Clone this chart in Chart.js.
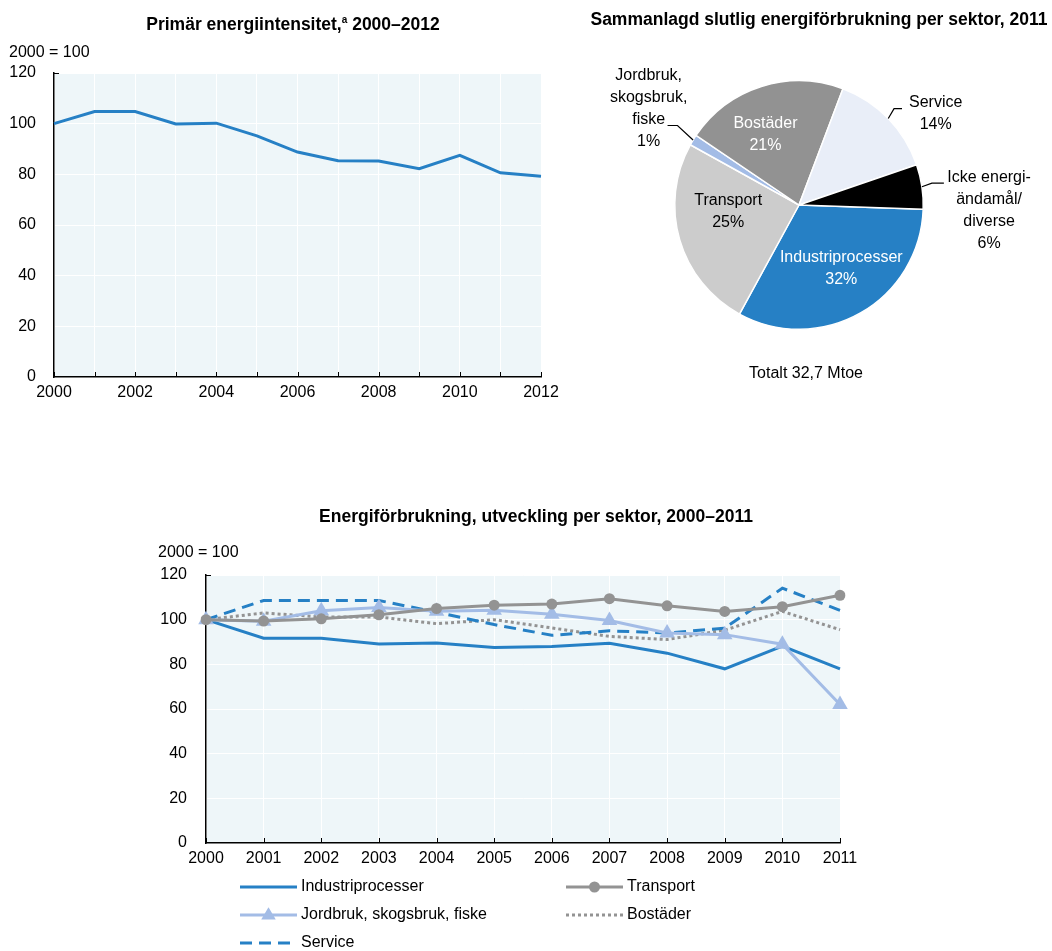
<!DOCTYPE html>
<html>
<head>
<meta charset="utf-8">
<script src="https://cdn.jsdelivr.net/npm/chart.js@4/dist/chart.umd.min.js"></script>
<style>
    html, body { margin: 0; padding: 0; background: #fff; }
    #wrap { position: relative; width: 1052px; height: 951px; overflow: hidden; }
    canvas { position: absolute; }
</style>
</head>
<body>
<div id="wrap">
    <canvas id="intensityChart" width="575" height="420" style="left:0;top:0"></canvas>
    <canvas id="sectorPie" width="472" height="400" style="left:580px;top:0"></canvas>
    <canvas id="sectorTrend" width="1052" height="451" style="left:0;top:500px"></canvas>
</div>
<script>
// Primary energy intensity, 2000 = 100
const intensityYears = ['2000', '2001', '2002', '2003', '2004', '2005', '2006',
    '2007', '2008', '2009', '2010', '2011', '2012'];
const intensityValues = [100, 104.8, 104.8, 99.9, 100.2, 95.2, 88.8, 85.4, 85.3, 82.2, 87.5, 80.6, 79.2];

// Final energy consumption by sector, 2011 (shares in %)
const pieSectors = ['Industriprocesser', 'Transport', 'Jordbruk, skogsbruk, fiske',
    'Bostäder', 'Service', 'Icke energiändamål/diverse'];
const pieShares = [32.4, 25.1, 1.4, 21.3, 14.0, 5.8];
const pieShareLabels = ['32%', '25%', '1%', '21%', '14%', '6%'];

// Energy consumption by sector, 2000 = 100
const trendYears = ['2000', '2001', '2002', '2003', '2004', '2005',
    '2006', '2007', '2008', '2009', '2010', '2011'];
const industriValues = [100, 91.7, 91.7, 89.1, 89.6, 87.5, 88.0, 89.4, 85.0, 78.0, 88.2, 78.0];
const transportValues = [100, 99.4, 100.4, 102.2, 105.0, 106.5, 107.0, 109.4, 106.2, 103.7, 105.8, 110.9];
const jordbrukValues = [100, 99.3, 104.0, 105.5, 103.8, 104.2, 102.4, 99.6, 94.0, 93.3, 89.0, 62.0];
const bostaderValues = [100, 103.0, 101.2, 101.2, 98.2, 100.0, 96.3, 92.5, 91.1, 95.3, 103.7, 95.5];
const serviceValues = [100, 108.6, 108.6, 108.6, 103.3, 97.8, 93.0, 95.0, 94.0, 96.2, 114.1, 104.2];

const yTicks = [0, 20, 40, 60, 80, 100, 120];

const FONT = "'Liberation Sans', Arial, sans-serif";
const FONT_SIZE = 16;
const TITLE_SIZE = 17.5;
const BLUE = '#2680C5';
const LIGHT_BLUE = '#A3BCE6';
const GRAY = '#939393';
const PLOT_BG = '#EEF6F9';

Chart.defaults.font.family = FONT;
Chart.defaults.font.size = FONT_SIZE;
Chart.defaults.color = '#000';

/**
 * Fills the plot area and draws the short inward tick marks on the axes.
 */
const plotFrame = {
    id: 'plotFrame',
    beforeDraw(chart) {
        const area = chart.chartArea;
        if (!chart.scales.x) return;
        chart.ctx.save();
        chart.ctx.fillStyle = PLOT_BG;
        chart.ctx.fillRect(area.left, area.top, area.right - area.left, area.bottom - area.top);
        chart.ctx.restore();
    },
    beforeDatasetsDraw(chart) {
        const xs = chart.scales.x;
        if (!xs) return;
        const ctx = chart.ctx;
        const area = chart.chartArea;
        ctx.save();
        ctx.strokeStyle = '#000';
        ctx.lineWidth = 1;
        ctx.beginPath();
        xs.ticks.forEach((t, i) => {
            const x = Math.round(xs.getPixelForTick(i)) + 0.5;
            ctx.moveTo(x, area.bottom);
            ctx.lineTo(x, area.bottom - 5);
        });
        ctx.moveTo(area.left, area.top + 0.5);
        ctx.lineTo(area.left + 5, area.top + 0.5);
        ctx.stroke();
        ctx.restore();
    }
};

/**
 * Draws the chart title (with optional superscript) and the unit label.
 */
const captions = {
    id: 'captions',
    afterDraw(chart, args, opts) {
        const ctx = chart.ctx;
        const area = chart.chartArea;
        ctx.save();
        ctx.fillStyle = '#000';
        ctx.textBaseline = 'middle';

        // title, built from parts so a superscript can be inserted
        if (opts.title) {
            const parts = opts.title;
            const fonts = parts.map(p => p.sup ? `bold 10px ${FONT}` : `bold ${TITLE_SIZE}px ${FONT}`);
            let total = 0;
            const widths = parts.map((p, i) => {
                ctx.font = fonts[i];
                const w = ctx.measureText(p.text).width;
                total += w;
                return w;
            });
            let x = opts.titleX - total / 2;
            ctx.textAlign = 'left';
            parts.forEach((p, i) => {
                ctx.font = fonts[i];
                ctx.fillText(p.text, x, opts.titleY - (p.sup ? 5 : 0));
                x += widths[i];
            });
        }

        if (opts.unit) {
            ctx.font = `${FONT_SIZE}px ${FONT}`;
            ctx.textAlign = 'left';
            ctx.fillText(opts.unit, area.left + opts.unitDx, area.top + opts.unitDy);
        }
        if (opts.note) {
            ctx.font = `${FONT_SIZE}px ${FONT}`;
            ctx.textAlign = 'center';
            ctx.fillText(opts.note, (area.left + area.right) / 2 + opts.noteDx, area.bottom + opts.noteDy);
        }
        ctx.restore();
    }
};

// --- Chart 1: primary energy intensity ---
new Chart(document.getElementById('intensityChart'), {
    type: 'line',
    data: {
        labels: intensityYears,
        datasets: [{
            data: intensityValues,
            borderColor: BLUE,
            borderWidth: 3,
            pointRadius: 0,
            tension: 0
        }]
    },
    options: {
        responsive: false,
        animation: false,
        layout: { padding: { left: 0, right: 34, top: 73, bottom: 13 } },
        plugins: {
            legend: { display: false },
            tooltip: { enabled: false },
            captions: {
                title: [
                    { text: 'Primär energiintensitet,' },
                    { text: 'a', sup: true },
                    { text: ' 2000–2012' }
                ],
                titleX: 293, titleY: 25,
                unit: '2000 = 100', unitDx: -45, unitDy: -20
            }
        },
        scales: {
            x: {
                offset: false,
                afterFit: (scale) => { scale.height = 30; },
                grid: { color: '#fff', lineWidth: 1, drawTicks: false },
                border: { display: true, color: '#000', width: 1.5 },
                ticks: {
                    autoSkip: false, maxRotation: 0, padding: 6,
                    callback: function(value, index) {
                        return index % 2 === 0 ? this.getLabelForValue(value) : '';
                    }
                }
            },
            y: {
                min: 0, max: 120,
                afterFit: (scale) => { scale.width = 54; },
                afterBuildTicks: (scale) => { scale.ticks = yTicks.map(v => ({ value: v })); },
                grid: { color: '#fff', lineWidth: 1, drawTicks: false },
                border: { display: true, color: '#000', width: 1.5 },
                ticks: { padding: 18 }
            }
        }
    },
    plugins: [plotFrame, captions]
});

// --- Chart 2: pie of final consumption by sector ---
const pieColors = [BLUE, '#CCCCCC', LIGHT_BLUE, '#929292', '#E9EEF8', '#000000'];

// label placement, in radius units relative to the pie centre
const pieLabelLayout = [
    { inside: true, dx: 0.34, dy: 0.51, color: '#fff' },
    { inside: true, dx: -0.57, dy: 0.05, color: '#000' },
    { lines: ['Jordbruk,', 'skogsbruk,', 'fiske'], dx: -1.21, dy: -1.04,
      leader: [[-1.058, -0.64], [-0.978, -0.64]] },
    { inside: true, dx: -0.27, dy: -0.57, color: '#fff' },
    { lines: ['Service'], dx: 1.10, dy: -0.824,
      leader: [[0.829, -0.776], [0.765, -0.776]] },
    { lines: ['Icke energi-', 'ändamål/', 'diverse'], dx: 1.53, dy: -0.224,
      leader: [[1.166, -0.176], [1.07, -0.176]] }
];

const pieLabels = {
    id: 'pieLabels',
    afterDraw(chart) {
        const ctx = chart.ctx;
        const arcs = chart.getDatasetMeta(0).data;
        const lineGap = 22;
        ctx.save();
        ctx.font = `${FONT_SIZE}px ${FONT}`;
        ctx.textAlign = 'center';
        ctx.textBaseline = 'middle';
        arcs.forEach((arc, i) => {
            const L = pieLabelLayout[i];
            const r = arc.outerRadius;
            const cx = arc.x + L.dx * r;
            const cy = arc.y + L.dy * r;
            if (L.inside) {
                ctx.fillStyle = L.color;
                ctx.fillText(chart.data.labels[i], cx, cy - lineGap / 2);
                ctx.fillText(pieShareLabels[i], cx, cy + lineGap / 2);
                return;
            }
            ctx.fillStyle = '#000';
            const lines = L.lines.concat(pieShareLabels[i]);
            lines.forEach((t, k) => ctx.fillText(t, cx, cy + k * lineGap));
            // leader line to the slice edge
            const mid = (arc.startAngle + arc.endAngle) / 2;
            ctx.strokeStyle = '#000';
            ctx.lineWidth = 1.2;
            ctx.beginPath();
            ctx.moveTo(arc.x + L.leader[0][0] * r, arc.y + L.leader[0][1] * r);
            ctx.lineTo(arc.x + L.leader[1][0] * r, arc.y + L.leader[1][1] * r);
            ctx.lineTo(arc.x + Math.cos(mid) * r, arc.y + Math.sin(mid) * r);
            ctx.stroke();
        });
        ctx.restore();
    }
};

new Chart(document.getElementById('sectorPie'), {
    type: 'pie',
    data: {
        labels: pieSectors,
        datasets: [{
            data: pieShares,
            backgroundColor: pieColors,
            borderColor: '#fff',
            borderWidth: 1.5
        }]
    },
    options: {
        responsive: false,
        animation: false,
        rotation: 92,
        layout: { padding: { left: 94, right: 128, top: 80, bottom: 70 } },
        plugins: {
            legend: { display: false },
            tooltip: { enabled: false },
            captions: {
                title: [{ text: 'Sammanlagd slutlig energiförbrukning per sektor, 2011' }],
                titleX: 239, titleY: 20,
                note: 'Totalt 32,7 Mtoe', noteDx: 7, noteDy: 44
            }
        }
    },
    plugins: [captions, pieLabels]
});

// --- Chart 3: consumption by sector over time ---
const trendLegend = {
    id: 'trendLegend',
    afterDraw(chart) {
        const ctx = chart.ctx;
        const area = chart.chartArea;
        const colX = [34, 360];
        const sampleLen = 57;
        ctx.save();
        ctx.font = `${FONT_SIZE}px ${FONT}`;
        ctx.textBaseline = 'middle';
        ctx.textAlign = 'left';
        chart.data.datasets.forEach((ds, i) => {
            const x0 = area.left + colX[i % 2];
            const y = area.bottom + 44 + Math.floor(i / 2) * 28;
            ctx.strokeStyle = ds.borderColor;
            ctx.lineWidth = ds.borderWidth;
            ctx.setLineDash(ds.borderDash || []);
            ctx.beginPath();
            ctx.moveTo(x0, y);
            ctx.lineTo(x0 + sampleLen, y);
            ctx.stroke();
            ctx.setLineDash([]);
            const mx = x0 + sampleLen / 2;
            ctx.fillStyle = ds.pointBackgroundColor || ds.borderColor;
            if (ds.pointStyle === 'circle' && ds.pointRadius > 0) {
                ctx.beginPath();
                ctx.arc(mx, y, ds.pointRadius, 0, Math.PI * 2);
                ctx.fill();
            } else if (ds.pointStyle === 'triangle' && ds.pointRadius > 0) {
                const s = ds.pointRadius * 0.85;
                ctx.beginPath();
                ctx.moveTo(mx, y - s);
                ctx.lineTo(mx + s * 0.95, y + s * 0.6);
                ctx.lineTo(mx - s * 0.95, y + s * 0.6);
                ctx.closePath();
                ctx.fill();
            }
            ctx.fillStyle = '#000';
            ctx.fillText(ds.label, x0 + sampleLen + 4, y);
        });
        ctx.restore();
    }
};

new Chart(document.getElementById('sectorTrend'), {
    type: 'line',
    data: {
        labels: trendYears,
        datasets: [
            {
                label: 'Industriprocesser', data: industriValues,
                borderColor: BLUE, borderWidth: 3, pointRadius: 0, order: 5
            },
            {
                label: 'Transport', data: transportValues,
                borderColor: GRAY, borderWidth: 3, order: 1,
                pointStyle: 'circle', pointRadius: 5.5, pointBackgroundColor: GRAY, pointBorderWidth: 0
            },
            {
                label: 'Jordbruk, skogsbruk, fiske', data: jordbrukValues,
                borderColor: LIGHT_BLUE, borderWidth: 3, order: 2,
                pointStyle: 'triangle', pointRadius: 9, pointBackgroundColor: LIGHT_BLUE, pointBorderWidth: 0
            },
            {
                label: 'Bostäder', data: bostaderValues,
                borderColor: GRAY, borderWidth: 3, borderDash: [3, 3], pointRadius: 0, order: 4
            },
            {
                label: 'Service', data: serviceValues,
                borderColor: BLUE, borderWidth: 3, borderDash: [12, 7], pointRadius: 0, order: 3
            }
        ]
    },
    options: {
        responsive: false,
        animation: false,
        layout: { padding: { left: 156, right: 212, top: 75, bottom: 78 } },
        plugins: {
            legend: { display: false },
            tooltip: { enabled: false },
            captions: {
                title: [{ text: 'Energiförbrukning, utveckling per sektor, 2000–2011' }],
                titleX: 536, titleY: 17,
                unit: '2000 = 100', unitDx: -48, unitDy: -22
            }
        },
        scales: {
            x: {
                offset: false,
                afterFit: (scale) => { scale.height = 30; },
                grid: { color: '#fff', lineWidth: 1, drawTicks: false },
                border: { display: true, color: '#000', width: 1.5 },
                ticks: { autoSkip: false, maxRotation: 0, padding: 6 }
            },
            y: {
                min: 0, max: 120,
                afterFit: (scale) => { scale.width = 50; },
                afterBuildTicks: (scale) => { scale.ticks = yTicks.map(v => ({ value: v })); },
                grid: { color: '#fff', lineWidth: 1, drawTicks: false },
                border: { display: true, color: '#000', width: 1.5 },
                ticks: { padding: 19 }
            }
        }
    },
    plugins: [plotFrame, captions, trendLegend]
});
</script>
</body>
</html>
